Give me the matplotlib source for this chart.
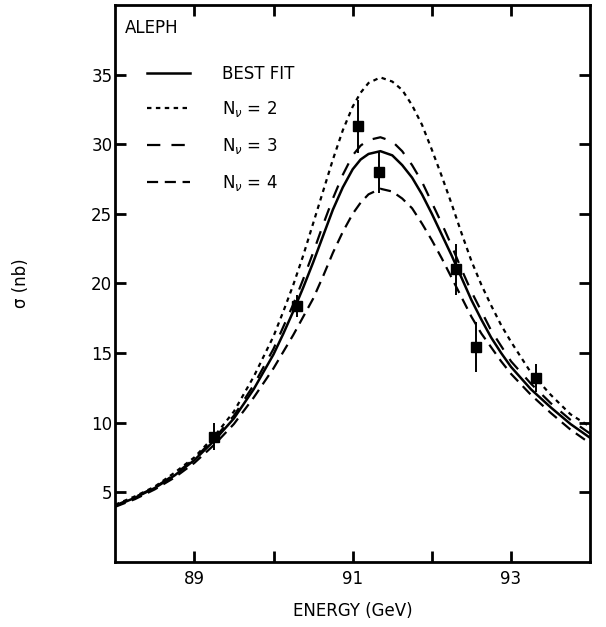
import numpy as np
import matplotlib
matplotlib.use('Agg')
import matplotlib.pyplot as plt

energy = [88.0, 88.25, 88.5, 88.75, 89.0, 89.25, 89.5, 89.75, 90.0, 90.125,
          90.25, 90.375, 90.5, 90.625, 90.75, 90.875, 91.0, 91.1, 91.2, 91.35,
          91.5, 91.625, 91.75, 91.875, 92.0, 92.125, 92.25, 92.375, 92.5, 92.625,
          92.75, 92.875, 93.0, 93.25, 93.5, 93.75, 94.0]
best_fit = [4.0, 4.6, 5.3, 6.2, 7.3, 8.7, 10.3, 12.4, 14.9, 16.4,
            18.0, 19.7, 21.5, 23.4, 25.3, 26.9, 28.2, 28.9, 29.3, 29.5,
            29.2, 28.5, 27.6, 26.4, 25.0, 23.5, 22.0, 20.4, 18.8, 17.4,
            16.1, 15.0, 14.0, 12.4, 11.1, 9.9, 8.9]
nu2 = [4.1, 4.7, 5.4, 6.4, 7.5, 9.0, 10.8, 13.3, 16.2, 18.0,
       19.9, 22.0, 24.3, 26.6, 28.9, 31.0, 32.7, 33.7, 34.4, 34.8,
       34.5, 33.9, 32.8, 31.4, 29.6, 27.7, 25.7, 23.6, 21.6, 19.9,
       18.4, 17.0, 15.8, 13.6, 12.0, 10.6, 9.7]
nu3 = [4.05, 4.65, 5.35, 6.27, 7.4, 8.85, 10.5, 12.7, 15.3, 16.9,
       18.5, 20.3, 22.2, 24.2, 26.1, 27.8, 29.2, 29.9, 30.3, 30.5,
       30.2, 29.5, 28.5, 27.3, 25.8, 24.3, 22.7, 21.0, 19.4, 18.0,
       16.6, 15.5, 14.4, 12.8, 11.4, 10.2, 9.2]
nu4 = [3.95, 4.5, 5.2, 6.05, 7.1, 8.4, 9.9, 11.8, 13.9, 15.1,
       16.3, 17.6, 18.9, 20.5, 22.2, 23.7, 25.0, 25.8, 26.4, 26.8,
       26.6, 26.1, 25.4, 24.3, 23.1, 21.8, 20.4, 19.0, 17.6, 16.4,
       15.4, 14.4, 13.5, 12.0, 10.7, 9.5, 8.5]

# measured points
e_data = [89.25, 90.3, 91.07, 91.33, 92.3, 92.56, 93.31]
sig_data = [9.0, 18.4, 31.3, 28.0, 21.0, 15.4, 13.2]
sig_err = [1.0, 0.8, 1.9, 1.5, 1.8, 1.8, 1.0]

fig = plt.figure(figsize=(6.06, 6.27), dpi=100)
ax = fig.add_axes([0.19, 0.104, 0.784, 0.888])

ax.plot(energy, best_fit, color='black', lw=1.8, label='BEST FIT')
ax.plot(energy, nu2, color='black', lw=1.6, ls=(0, (2, 2)), label=r'N$_\nu$ = 2')
ax.plot(energy, nu3, color='black', lw=1.6, ls=(0, (6, 5)), label=r'N$_\nu$ = 3')
ax.plot(energy, nu4, color='black', lw=1.6, ls=(0, (5, 3)), label=r'N$_\nu$ = 4')

ax.errorbar(e_data, sig_data, yerr=sig_err, fmt='s', color='black',
            ms=7, elinewidth=1.4, capsize=0)

ax.set_xlim(88, 94)
ax.set_ylim(0, 40)
ax.set_xticks([89, 91, 93])
ax.set_xticks([90, 92], minor=True)
ax.set_yticks([5, 10, 15, 20, 25, 30, 35])
ax.tick_params(which='both', direction='in', top=True, right=True,
               length=8, width=2, labelsize=12)
ax.tick_params(axis='y', pad=2)
ax.tick_params(axis='x', pad=6)
for s in ax.spines.values():
    s.set_linewidth(2)

ax.set_xlabel('ENERGY (GeV)', fontsize=12, labelpad=10)
ax.set_ylabel('σ (nb)', fontsize=12, labelpad=44)

ax.text(0.02, 0.975, 'ALEPH', transform=ax.transAxes, fontsize=12,
        va='top', ha='left')
ax.legend(loc='upper left', bbox_to_anchor=(0.035, 0.92), frameon=False,
          fontsize=12, handlelength=2.6, handletextpad=1.9, labelspacing=1.0)

fig.savefig('out.png', dpi=100)
